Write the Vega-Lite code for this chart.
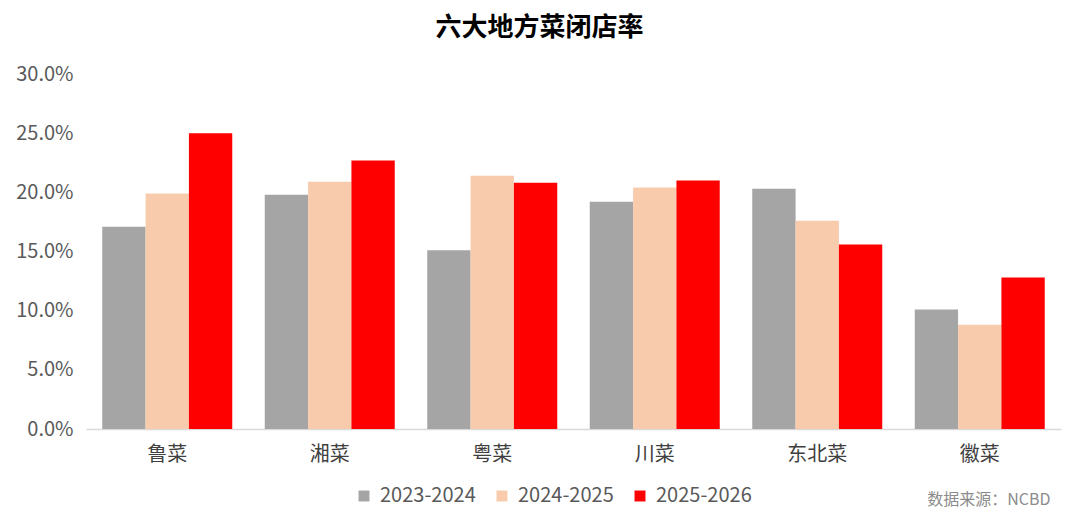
{
  "$schema": "https://vega.github.io/schema/vega-lite/v6.json",
  "width": 975,
  "height": 355,
  "autosize": {"type": "none"},
  "padding": {"left": 86, "top": 74, "right": 19, "bottom": 86},
  "background": "white",
  "title": {
    "text": "六大地方菜闭店率",
    "font": "Noto Sans CJK SC",
    "fontSize": 26,
    "fontWeight": "bold",
    "color": "#000000",
    "anchor": "middle",
    "dx": -34,
    "offset": 23
  },
  "data": {
    "values": [
      {"cuisine": "鲁菜", "period": "2023-2024", "rate": 0.171},
      {"cuisine": "鲁菜", "period": "2024-2025", "rate": 0.199},
      {"cuisine": "鲁菜", "period": "2025-2026", "rate": 0.250},
      {"cuisine": "湘菜", "period": "2023-2024", "rate": 0.198},
      {"cuisine": "湘菜", "period": "2024-2025", "rate": 0.209},
      {"cuisine": "湘菜", "period": "2025-2026", "rate": 0.227},
      {"cuisine": "粤菜", "period": "2023-2024", "rate": 0.151},
      {"cuisine": "粤菜", "period": "2024-2025", "rate": 0.214},
      {"cuisine": "粤菜", "period": "2025-2026", "rate": 0.208},
      {"cuisine": "川菜", "period": "2023-2024", "rate": 0.192},
      {"cuisine": "川菜", "period": "2024-2025", "rate": 0.204},
      {"cuisine": "川菜", "period": "2025-2026", "rate": 0.210},
      {"cuisine": "东北菜", "period": "2023-2024", "rate": 0.203},
      {"cuisine": "东北菜", "period": "2024-2025", "rate": 0.176},
      {"cuisine": "东北菜", "period": "2025-2026", "rate": 0.156},
      {"cuisine": "徽菜", "period": "2023-2024", "rate": 0.101},
      {"cuisine": "徽菜", "period": "2024-2025", "rate": 0.088},
      {"cuisine": "徽菜", "period": "2025-2026", "rate": 0.128}
    ]
  },
  "mark": {"type": "bar"},
  "encoding": {
    "x": {
      "field": "cuisine",
      "type": "nominal",
      "sort": ["鲁菜", "湘菜", "粤菜", "川菜", "东北菜", "徽菜"],
      "scale": {"paddingInner": 0.2, "paddingOuter": 0.1},
      "axis": {
        "title": "数据来源：NCBD",
        "titleFont": "Noto Sans CJK SC",
        "titleFontSize": 16,
        "titleFontWeight": "normal",
        "titleColor": "#8C8C8C",
        "titleAnchor": "end",
        "titleAlign": "right",
        "titleX": 964,
        "titleY": 62,
        "labelAngle": 0,
        "labelFont": "Noto Sans CJK SC",
        "labelFontSize": 20,
        "labelColor": "#404040",
        "labelPadding": 15,
        "ticks": false,
        "domainColor": "#D9D9D9",
        "domainWidth": 1.5,
        "grid": false
      }
    },
    "xOffset": {
      "field": "period",
      "type": "nominal",
      "scale": {"paddingInner": 0, "paddingOuter": 0}
    },
    "y": {
      "field": "rate",
      "type": "quantitative",
      "scale": {"domain": [0, 0.3], "nice": false},
      "axis": {
        "title": null,
        "format": ".1%",
        "values": [0, 0.05, 0.1, 0.15, 0.2, 0.25, 0.3],
        "labelFont": "Noto Sans CJK SC",
        "labelFontSize": 20,
        "labelColor": "#595959",
        "labelPadding": 13,
        "ticks": false,
        "domain": false,
        "grid": false
      }
    },
    "color": {
      "field": "period",
      "type": "nominal",
      "scale": {
        "domain": ["2023-2024", "2024-2025", "2025-2026"],
        "range": ["#A5A5A5", "#F8CBAD", "#FF0000"]
      },
      "legend": {
        "title": null,
        "orient": "none",
        "direction": "horizontal",
        "legendX": 268,
        "legendY": 412,
        "symbolType": "square",
        "symbolSize": 120,
        "symbolStrokeWidth": 0,
        "labelFont": "Noto Sans CJK SC",
        "labelFontSize": 20,
        "labelColor": "#595959",
        "labelOffset": 6,
        "columnPadding": 16
      }
    }
  },
  "config": {"view": {"stroke": null}}
}
